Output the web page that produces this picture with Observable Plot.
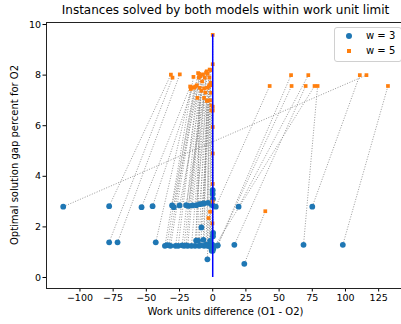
<!DOCTYPE html>
<html><head><meta charset="utf-8">
<script src="https://cdn.jsdelivr.net/npm/d3@7"></script>
<script src="https://cdn.jsdelivr.net/npm/@observablehq/plot@0.6"></script>
<style>
body{margin:0;background:#fff;}
#wrap{position:relative;width:401px;height:324px;font-family:"DejaVu Sans",sans-serif;overflow:hidden;color:#000}
#title{position:absolute;top:3px;left:46px;width:359px;text-align:center;font-size:12px;white-space:nowrap}
#xlab{position:absolute;top:306px;left:46px;width:359px;text-align:center;font-size:10px;white-space:nowrap}
#ylab{position:absolute;left:14px;top:155px;transform:translate(-50%,-50%) rotate(-90deg);font-size:10px;white-space:nowrap}
#legend{position:absolute;left:334px;top:27px;width:66px;height:33px;border:1px solid #d0d0d0;border-radius:3px;background:rgba(255,255,255,0.85);font-size:10px}
.li{position:absolute;left:0;height:14px;line-height:14px}
.li span.t{position:absolute;left:31px;white-space:nowrap}
.sw{position:absolute}
svg{position:absolute;left:0;top:0}
</style></head>
<body><div id="wrap">
<div id="title">Instances solved by both models within work unit limit</div>
<div id="xlab">Work units difference (O1 - O2)</div>
<div id="ylab">Optimal solution gap percent for O2</div>
<div id="legend">
 <div class="li" style="top:1px"><div class="sw" style="left:11px;top:4px;width:6px;height:6px;border-radius:50%;background:#1f77b4"></div><span class="t">w = 3</span></div>
 <div class="li" style="top:16px"><div class="sw" style="left:12px;top:5px;width:4px;height:4px;background:#ff7f0e"></div><span class="t">w = 5</span></div>
</div>
</div>
<script>
// w = 3 points (blue) and their paired w = 5 points (orange), index-aligned
const w3x = [-112.6,-78.0,-53.6,-45.3,-30.6,-29.3,-18.3,-15.3,-12.3,-9.8,-6.5,-3.5,-1.0,2.3,19.5,75.0,
  -78.0,-71.7,-42.9,
  -36.0,-34.6,-31.8,-28.0,-23.0,-21.6,-18.8,-13.3,-10.3,-6.5,-4.0,-12.5,-11.0,-7.0,-8.5,-4.0,-0.75,
  3.5,3.8,16.3,68.4,98.0,23.8,0.5,
  0.0,0.0,0.2,0.0,0.3,0.2,0.0,-0.3,-1.5,
  -33.0,-26.0,-20.0,-16.0,-9.0,-2.5,-25.0,-20.0,-7.5,-2.0,-5.0];
const w3y = [2.80,2.82,2.78,2.82,2.85,2.78,2.83,2.85,2.86,2.90,2.93,2.95,2.90,2.80,2.80,2.80,
  1.39,1.39,1.39,
  1.25,1.28,1.25,1.25,1.27,1.25,1.25,1.25,1.25,1.25,1.25,1.46,1.46,1.49,1.98,0.72,1.06,
  1.26,1.27,1.29,1.29,1.29,0.54,1.15,
  3.45,3.30,3.10,2.85,1.76,1.63,1.06,1.30,1.20,
  1.27,1.25,1.27,1.25,1.27,1.30,2.85,2.86,2.92,1.45,1.30];
const w5x = [115.8,-31.5,-17.0,-15.0,-11.0,-9.5,-6.5,-4.5,-2.3,-3.5,-1.8,-1.5,-1.0,42.9,72.0,110.8,
  -30.3,-24.8,-16.5,
  -14.5,-14.0,-12.0,-11.5,-9.8,-8.5,-7.3,-6.5,-5.5,-4.5,-3.0,-9.0,-10.3,-4.0,-2.6,-3.2,-2.0,
  59.4,59.0,70.0,79.0,132.0,39.6,76.7,
  0.0,0.0,0.0,0.0,0.0,0.0,0.0,-0.2,0.0,
  -13.0,-10.5,-8.0,-5.0,-2.5,-1.2,-6.0,-3.8,-1.5,-1.0,-2.0];
const w5y = [8.00,8.02,7.55,7.52,8.08,7.95,7.48,8.15,8.22,7.00,7.60,8.20,6.80,7.57,8.00,8.00,
  7.90,8.03,7.45,
  7.93,7.50,7.60,7.10,7.50,7.38,8.03,7.10,7.31,6.98,7.55,8.00,8.05,7.50,7.60,2.35,2.60,
  7.57,8.00,7.57,7.57,7.57,2.62,7.57,
  9.59,8.43,6.75,6.60,5.95,4.90,3.70,2.14,3.00,
  7.55,7.90,7.75,8.10,7.90,7.30,7.90,8.05,7.70,6.60,7.00];
const xTicks = [-100,-75,-50,-25,0,25,50,75,100,125];
const yTicks = [0,2,4,6,8,10];
const xDomain = [-125.2, 142.2];
const yDomain = [-0.435, 10.08];
const zeroLine = {x: 0, y1: 0, y2: 9.6};

const pairs = w3x.map((x, i) => ({x1: x, y1: w3y[i], x2: w5x[i], y2: w5y[i]}));

const chart = Plot.plot({
  width: 401, height: 324,
  marginLeft: 46, marginRight: 0, marginTop: 22, marginBottom: 36,
  style: {fontFamily: "DejaVu Sans, sans-serif", fontSize: "9.5px", background: "transparent", color: "#000"},
  x: {domain: xDomain, ticks: xTicks, tickSize: 3.5, tickPadding: 2, label: null, tickFormat: d3.format("")},
  y: {domain: yDomain, ticks: yTicks, tickSize: 3.5, tickPadding: 2, label: null},
  marks: [
    Plot.link(pairs, {x1: "x1", y1: "y1", x2: "x2", y2: "y2", stroke: "#8c8c8c", strokeWidth: 0.9, strokeDasharray: "1,1.6"}),
    Plot.dot(pairs, {x: "x1", y: "y1", r: 2.9, fill: "#1f77b4", stroke: "none"}),
    Plot.dot(pairs, {x: "x2", y: "y2", r: 2.1, symbol: "square", fill: "#ff7f0e", stroke: "none"}),
    Plot.ruleX([zeroLine], {x: "x", y1: "y1", y2: "y2", stroke: "#0000ff", strokeWidth: 1.5}),
    Plot.ruleY([yDomain[0]], {stroke: "#222", strokeWidth: 1}),
    Plot.ruleY([yDomain[1]], {stroke: "#222", strokeWidth: 1}),
    Plot.ruleX([xDomain[0]], {stroke: "#222", strokeWidth: 1})
  ]
});
document.getElementById("wrap").prepend(chart);
</script>
</body></html>
